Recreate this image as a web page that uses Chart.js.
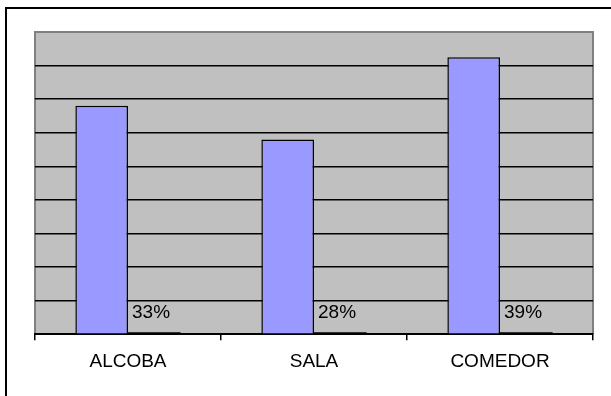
<!DOCTYPE html>
<html>
<head>
<meta charset="utf-8">
<script src="https://cdn.jsdelivr.net/npm/chart.js@4/dist/chart.umd.min.js"></script>
<style>
  html, body { margin: 0; padding: 0; background: #fff; }
  #wrap { position: relative; width: 611px; height: 396px; overflow: hidden; }
  #marco { position: absolute; left: 5px; top: 7px; width: 700px; height: 500px;
           border-left: 2px solid #000; border-top: 2px solid #000; pointer-events: none; }
  #grafico { position: absolute; left: 0; top: 0; }
</style>
</head>
<body>
<div id="wrap">
  <div id="marco"></div>
  <canvas id="grafico" width="611" height="396"></canvas>
</div>
<script>
// datos
const categorias = ['ALCOBA', 'SALA', 'COMEDOR'];
const valores = [68, 58, 82.5];
const porcentajes = [0.33, 0.28, 0.39];
const ejeMax = 90;
const ejePaso = 10;

const fuente = '"Liberation Sans", Arial, sans-serif';

// fondo gris del área de trazado y sus bordes
const fondoPlot = {
    id: 'fondoPlot',
    beforeDraw(chart) {
        const { ctx, chartArea: a } = chart;
        ctx.save();
        ctx.fillStyle = '#c0c0c0';
        ctx.fillRect(a.left, a.top, a.right - a.left, a.bottom - a.top);
        ctx.strokeStyle = '#808080';
        ctx.lineWidth = 2;
        ctx.beginPath();
        ctx.moveTo(a.left, a.bottom);
        ctx.lineTo(a.left, a.top);
        ctx.lineTo(a.right, a.top);
        ctx.lineTo(a.right, a.bottom);
        ctx.stroke();
        ctx.restore();
    }
};

// etiquetas de porcentaje sobre la segunda serie
const etiquetas = {
    id: 'etiquetas',
    afterDatasetsDraw(chart) {
        const { ctx } = chart;
        const meta = chart.getDatasetMeta(1);
        ctx.save();
        ctx.fillStyle = '#000';
        ctx.font = '19px ' + fuente;
        ctx.textAlign = 'left';
        ctx.textBaseline = 'alphabetic';
        meta.data.forEach((bar, i) => {
            const txt = Math.round(porcentajes[i] * 100) + '%';
            ctx.fillText(txt, bar.x - bar.width / 2 + 4, bar.base - 15);
        });
        ctx.restore();
    }
};

document.addEventListener('DOMContentLoaded', function () {
    const ctx = document.getElementById('grafico');
    new Chart(ctx, {
        type: 'bar',
        data: {
            labels: categorias,
            datasets: [{
                label: 'Valor',
                data: valores,
                backgroundColor: '#9999ff',
                borderColor: '#000',
                borderWidth: 1.5
            }, {
                label: 'Porcentaje',
                data: porcentajes,
                backgroundColor: '#000',
                borderWidth: 0,
                minBarLength: 2
            }]
        },
        options: {
            responsive: false,
            animation: false,
            devicePixelRatio: 1,
            categoryPercentage: 0.566,
            barPercentage: 1,
            layout: { padding: { left: 35, top: 32, right: 18, bottom: 13 } },
            plugins: {
                legend: { display: false },
                tooltip: { enabled: false }
            },
            scales: {
                x: {
                    offset: true,
                    grid: {
                        offset: true,
                        drawOnChartArea: false,
                        drawTicks: true,
                        tickLength: 6,
                        color: '#000',
                        lineWidth: 1.5
                    },
                    border: { display: true, color: '#000', width: 2 },
                    ticks: {
                        color: '#000',
                        padding: 10,
                        font: { family: fuente, size: 19 }
                    }
                },
                y: {
                    min: 0,
                    max: ejeMax,
                    ticks: { display: false, stepSize: ejePaso },
                    grid: {
                        drawTicks: false,
                        color: (c) => c.tick && c.tick.value === ejeMax ? 'rgba(0,0,0,0)' : '#000',
                        lineWidth: 1.5
                    },
                    border: { display: false }
                }
            }
        },
        plugins: [fondoPlot, etiquetas]
    });
});
</script>
</body>
</html>
